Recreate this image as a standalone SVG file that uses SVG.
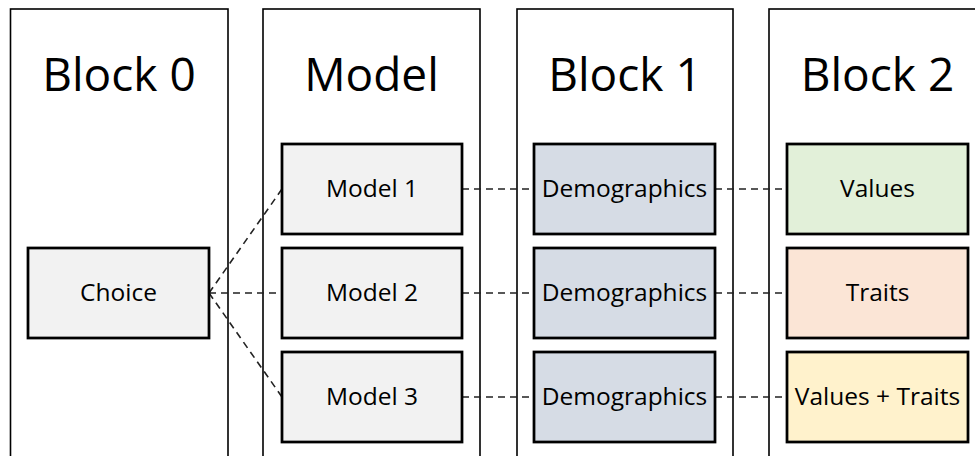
<svg xmlns="http://www.w3.org/2000/svg" width="975" height="456" viewBox="0 0 975 456">
  <style>
    .col { fill: #ffffff; stroke: #000000; stroke-width: 1.6; }
    .box { stroke: #000000; stroke-width: 2.75; }
    .title { font-family: "Open Sans", "Liberation Sans", sans-serif; font-size: 46px; fill: #000000; text-anchor: middle; }
    .label { font-family: "Open Sans", "Liberation Sans", sans-serif; font-size: 24.5px; fill: #000000; text-anchor: middle; }
    .link { fill: none; stroke: #222222; stroke-width: 1.6; stroke-dasharray: 7 5; }
    .grey { fill: #f2f2f2; }
    .blue { fill: #d6dce5; }
    .green { fill: #e2f0d9; }
    .peach { fill: #fbe5d6; }
    .cream { fill: #fff2cc; }
  </style>

  <!-- column frames -->
  <g id="col-block0">
    <rect class="col" x="10.5" y="9" width="217.5" height="470"/>
    <text class="title" x="119" y="91">Block 0</text>
  </g>
  <g id="col-model">
    <rect class="col" x="263" y="9" width="217" height="470"/>
    <text class="title" x="371.5" y="91">Model</text>
  </g>
  <g id="col-block1">
    <rect class="col" x="517" y="9" width="216" height="470"/>
    <text class="title" x="625" y="91">Block 1</text>
  </g>
  <g id="col-block2">
    <rect class="col" x="769" y="9" width="217" height="470"/>
    <text class="title" x="877.5" y="91">Block 2</text>
  </g>

  <!-- dashed connectors -->
  <g id="connectors">
    <line class="link" x1="209" y1="293" x2="282" y2="189"/>
    <line class="link" x1="209" y1="293" x2="282" y2="293"/>
    <line class="link" x1="209" y1="293" x2="282" y2="397"/>
    <line class="link" x1="462" y1="189" x2="534" y2="189"/>
    <line class="link" x1="462" y1="293" x2="534" y2="293"/>
    <line class="link" x1="462" y1="397" x2="534" y2="397"/>
    <line class="link" x1="715" y1="189" x2="787" y2="189"/>
    <line class="link" x1="715" y1="293" x2="787" y2="293"/>
    <line class="link" x1="715" y1="397" x2="787" y2="397"/>
  </g>

  <!-- nodes -->
  <g id="choice">
    <rect class="box grey" x="28" y="248" width="181" height="90"/>
    <text class="label" x="118.5" y="301">Choice</text>
  </g>
  <g id="model1">
    <rect class="box grey" x="282" y="144" width="180" height="90"/>
    <text class="label" x="372" y="197">Model 1</text>
  </g>
  <g id="model2">
    <rect class="box grey" x="282" y="248" width="180" height="90"/>
    <text class="label" x="372" y="301">Model 2</text>
  </g>
  <g id="model3">
    <rect class="box grey" x="282" y="352" width="180" height="90"/>
    <text class="label" x="372" y="405">Model 3</text>
  </g>
  <g id="demo1">
    <rect class="box blue" x="534" y="144" width="181" height="90"/>
    <text class="label" x="624.5" y="197">Demographics</text>
  </g>
  <g id="demo2">
    <rect class="box blue" x="534" y="248" width="181" height="90"/>
    <text class="label" x="624.5" y="301">Demographics</text>
  </g>
  <g id="demo3">
    <rect class="box blue" x="534" y="352" width="181" height="90"/>
    <text class="label" x="624.5" y="405">Demographics</text>
  </g>
  <g id="values">
    <rect class="box green" x="787" y="144" width="181" height="90"/>
    <text class="label" x="877.5" y="197">Values</text>
  </g>
  <g id="traits">
    <rect class="box peach" x="787" y="248" width="181" height="90"/>
    <text class="label" x="877.5" y="301">Traits</text>
  </g>
  <g id="values-traits">
    <rect class="box cream" x="787" y="352" width="181" height="90"/>
    <text class="label" x="877.5" y="405">Values + Traits</text>
  </g>
</svg>
